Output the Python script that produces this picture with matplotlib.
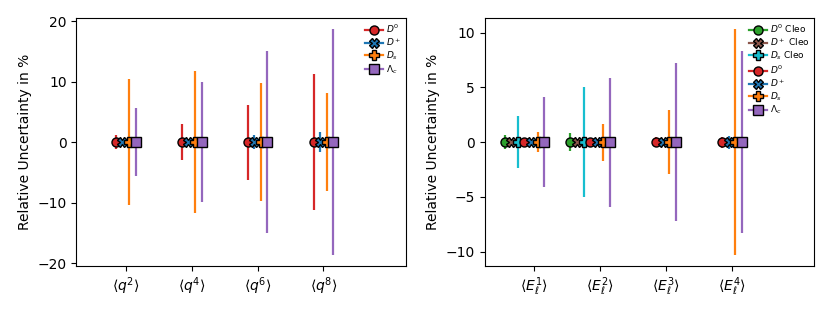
import numpy as np
import matplotlib.pyplot as plt
from matplotlib.lines import Line2D

# moments of q^2 (left) and lepton energy (right)
q_labels = [r"$\langle q^2\rangle$", r"$\langle q^4\rangle$",
            r"$\langle q^6\rangle$", r"$\langle q^8\rangle$"]
e_labels = [r"$\langle E_\ell^1\rangle$", r"$\langle E_\ell^2\rangle$",
            r"$\langle E_\ell^3\rangle$", r"$\langle E_\ell^4\rangle$"]

# relative uncertainties in %
q_D0 = [1.2, 3.0, 6.2, 11.3]
q_Dp = [0.4, 0.5, 1.2, 1.6]
q_Ds = [10.4, 11.7, 9.7, 8.1]
q_Lc = [5.6, 9.9, 15.0, 18.65]

e_D0_cleo = [0.65, 0.8, np.nan, np.nan]
e_Dp_cleo = [0.3, 0.3, np.nan, np.nan]
e_Ds_cleo = [2.4, 5.0, np.nan, np.nan]
e_D0 = [0.3, 0.3, 0.45, 0.5]
e_Dp = [0.2, 0.2, 0.3, 0.6]
e_Ds = [0.93, 1.7, 2.9, 10.3]
e_Lc = [4.1, 5.9, 7.2, 8.3]

styles = {
    "D0": ("tab:red", "o", r"$D^0$"),
    "Dp": ("tab:blue", "X", r"$D^+$"),
    "Ds": ("tab:orange", "P", r"$D_s$"),
    "Lc": ("tab:purple", "s", r"$\Lambda_c$"),
    "D0c": ("tab:green", "o", r"$D^0$ Cleo"),
    "Dpc": ("tab:brown", "X", r"$D^+$ Cleo"),
    "Dsc": ("tab:cyan", "P", r"$D_s$ Cleo"),
}

fig, (ax1, ax2) = plt.subplots(1, 2, figsize=(8.3, 3.12), dpi=100)
fig.subplots_adjust(left=0.092, right=0.981, top=0.942, bottom=0.147, wspace=0.24)


def draw(ax, series, offsets):
    x = np.arange(1, 5)
    handles = []
    for (key, err), off in zip(series, offsets):
        c, m, lab = styles[key]
        err = np.array(err, dtype=float)
        ok = ~np.isnan(err)
        ax.errorbar(x[ok] + off, np.zeros(ok.sum()), yerr=err[ok], ls="none",
                    marker=m, color=c, ms=6.5, mec="black", mew=1.0,
                    elinewidth=1.6, capsize=0)
        handles.append(Line2D([], [], color=c, marker=m, ms=6.5, mec="black",
                              mew=1.0, lw=1.6, label=lab))
    ax.legend(handles=handles, loc="upper right", fontsize=6.5, frameon=False,
              borderaxespad=0.1, handletextpad=0.3, labelspacing=0.15,
              handlelength=2.0)
    ax.set_xticks(x)
    ax.set_xlim(0.25, 5.25)
    ax.set_ylabel("Relative Uncertainty in %")


draw(ax1, [("D0", q_D0), ("Dp", q_Dp), ("Ds", q_Ds), ("Lc", q_Lc)],
     [-0.15, -0.05, 0.05, 0.15])
ax1.set_xticklabels(q_labels)

draw(ax2, [("D0c", e_D0_cleo), ("Dpc", e_Dp_cleo), ("Dsc", e_Ds_cleo),
           ("D0", e_D0), ("Dp", e_Dp), ("Ds", e_Ds), ("Lc", e_Lc)],
     [-0.45, -0.35, -0.25, -0.15, -0.05, 0.05, 0.15])
ax2.set_xticklabels(e_labels)

fig.savefig("out.png", dpi=100)
